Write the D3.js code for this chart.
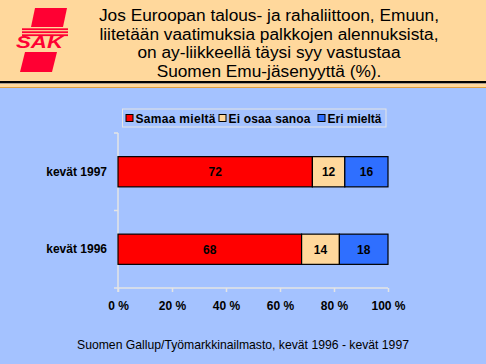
<!DOCTYPE html>
<html>
<head>
<meta charset="utf-8">
<script src="https://cdn.jsdelivr.net/npm/d3@7"></script>
<style>
  body { margin: 0; }
  svg { display: block; font-family: Arial, "Liberation Sans", sans-serif; }
</style>
</head>
<body>
<svg id="chart" width="486" height="364"></svg>
<script>
const categories = ["kevät 1997", "kevät 1996"];
const seriesNames = ["Samaa mieltä", "Ei osaa sanoa", "Eri mieltä"];
const samaa = [72, 68];
const eiOsaa = [12, 14];
const eri = [16, 18];
const xTicks = [0, 20, 40, 60, 80, 100];
const titleLines = [
  "Jos Euroopan talous- ja rahaliittoon, Emuun,",
  "liitetään vaatimuksia palkkojen alennuksista,",
  "on ay-liikkeellä täysi syy vastustaa",
  "Suomen Emu-jäsenyyttä (%)."
];
const source = "Suomen Gallup/Työmarkkinailmasto, kevät 1996 - kevät 1997";

const colors = ["#ff0000", "#ffd89c", "#2f6fff"];

const svg = d3.select("#chart");
const width = 486;
const height = 364;

// background
svg.append("rect").attr("width", width).attr("height", height).attr("fill", "#a4c2ff");
svg.append("rect").attr("width", width).attr("height", 82).attr("fill", "#ffd89c");
svg.append("rect").attr("y", 81).attr("width", width).attr("height", 2.5).attr("fill", "#000");
svg.append("rect").attr("y", 83.5).attr("width", width).attr("height", 3.5).attr("fill", "#ffd89c");
svg.append("rect").attr("y", 87).attr("width", width).attr("height", 1).attr("fill", "#e0a040");

// logo
const logo = svg.append("g").attr("fill", "#ff0033");
logo.append("path").attr("d", "M35,8 L67,8 L63,27 L31,27 Z");
logo.append("path").attr("d", "M25,52 L57,52 L52,72 L20,72 Z");
[28.3, 31.3, 34.3].forEach(yy =>
  logo.append("rect").attr("x", 22).attr("y", yy).attr("width", 46).attr("height", 1.8));
logo.append("text")
  .attr("x", 16).attr("y", 47.5)
  .attr("font-size", 17).attr("font-weight", "bold").attr("font-style", "italic")
  .attr("textLength", 47).attr("lengthAdjust", "spacingAndGlyphs")
  .text("SAK");

// title
svg.append("g")
  .selectAll("text")
  .data(titleLines)
  .join("text")
  .attr("x", 269)
  .attr("y", (d, i) => 21 + i * 18.7)
  .attr("text-anchor", "middle")
  .attr("font-size", 17.3)
  .attr("fill", "#000")
  .text(d => d);

// chart
const margin = { left: 118, right: 98, top: 133, bottom: 76 };
const x = d3.scaleLinear().domain([0, 100]).range([margin.left, width - margin.right]);
const y = d3.scaleBand().domain(categories).range([margin.top, height - margin.bottom]).paddingInner(0.61).paddingOuter(0.305);

const rows = categories.map((c, i) => {
  const vals = [samaa[i], eiOsaa[i], eri[i]];
  let acc = 0;
  return vals.map((v, k) => {
    const seg = { cat: c, k, v, x0: acc, x1: acc + v };
    acc += v;
    return seg;
  });
}).flat();

// axes
const axisColor = "#e4e4e4";
const xAxis = svg.append("g")
  .attr("transform", `translate(0,${height - margin.bottom})`)
  .call(d3.axisBottom(x).tickValues(xTicks).tickSize(4).tickPadding(9).tickFormat(d => d + " %"));
xAxis.select(".domain").attr("stroke", axisColor).attr("stroke-width", 1.5).attr("d", `M${x(0)},0H${x(100)}`);
xAxis.selectAll(".tick line").attr("stroke", axisColor).attr("stroke-width", 1.5);
xAxis.selectAll(".tick text").attr("font-size", 12).attr("font-weight", "bold").attr("fill", "#000")
  .attr("font-family", "Arial, 'Liberation Sans', sans-serif");

const yTickPos = [margin.top, (margin.top + height - margin.bottom) / 2, height - margin.bottom];
const yAxis = svg.append("g").attr("transform", `translate(${margin.left},0)`);
yAxis.append("line").attr("x1", 0).attr("x2", 0)
  .attr("y1", margin.top).attr("y2", height - margin.bottom + 4)
  .attr("stroke", axisColor).attr("stroke-width", 1.5);
yAxis.selectAll("line.tk").data(yTickPos).join("line").attr("class", "tk")
  .attr("x1", -4).attr("x2", 0).attr("y1", d => d).attr("y2", d => d)
  .attr("stroke", axisColor).attr("stroke-width", 1.5);
yAxis.selectAll("text").data(categories).join("text")
  .attr("x", -11)
  .attr("y", d => y(d) + y.bandwidth() / 2)
  .attr("dy", "0.35em")
  .attr("text-anchor", "end")
  .attr("font-size", 12).attr("font-weight", "bold")
  .text(d => d);

// bars
svg.append("g")
  .selectAll("rect")
  .data(rows)
  .join("rect")
  .attr("x", d => x(d.x0))
  .attr("y", d => y(d.cat))
  .attr("width", d => x(d.x1) - x(d.x0))
  .attr("height", y.bandwidth())
  .attr("fill", d => colors[d.k])
  .attr("stroke", "#000")
  .attr("stroke-width", 1.2);

svg.append("g")
  .selectAll("text")
  .data(rows)
  .join("text")
  .attr("x", d => x((d.x0 + d.x1) / 2))
  .attr("y", d => y(d.cat) + y.bandwidth() / 2)
  .attr("dy", "0.36em")
  .attr("text-anchor", "middle")
  .attr("font-size", 12).attr("font-weight", "bold")
  .text(d => d.v);

// legend
const legend = svg.append("g");
legend.append("rect").attr("x", 122.5).attr("y", 109).attr("width", 263.5).attr("height", 18)
  .attr("fill", "none").attr("stroke", "#e4e4e4").attr("stroke-width", 1);
const legendX = [126, 219, 318];
const legendW = [80, 82, 54];
const item = legend.selectAll("g").data(seriesNames).join("g")
  .attr("transform", (d, i) => `translate(${legendX[i]},113)`);
item.append("rect").attr("width", 7).attr("height", 7).attr("y", 1.5)
  .attr("fill", (d, i) => colors[i]).attr("stroke", "#000").attr("stroke-width", 1);
item.append("text").attr("x", 9.5).attr("y", 9.8)
  .attr("font-size", 12).attr("font-weight", "bold")
  .attr("textLength", (d, i) => legendW[i]).attr("lengthAdjust", "spacing")
  .text(d => d);

// source
svg.append("text")
  .attr("x", 243).attr("y", 349)
  .attr("text-anchor", "middle")
  .attr("font-size", 12.2)
  .text(source);
</script>
</body>
</html>
